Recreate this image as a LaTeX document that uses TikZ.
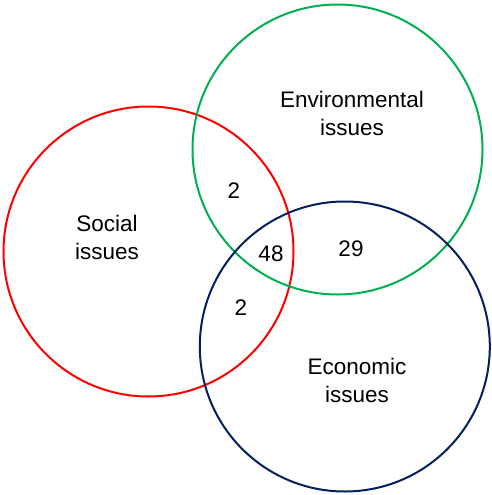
\documentclass[tikz,border=0pt]{standalone}
\usepackage{fontspec}
\setmainfont{Liberation Sans}
\usetikzlibrary{positioning}
\definecolor{socialred}{RGB}{255,0,0}
\definecolor{envgreen}{RGB}{0,176,80}
\definecolor{econblue}{RGB}{0,32,96}

\begin{document}
\begin{tikzpicture}[
    x=1pt, y=-1pt,
    every node/.style={font=\fontsize{22.5}{28}\selectfont},
    setcircle/.style={circle, line width=2pt, minimum size=290pt, inner sep=0pt},
    setlabel/.style={align=center, inner sep=0pt},
    count/.style={inner sep=0pt}
]
\useasboundingbox (0,0) rectangle (491,495);

% Sets
\node[setcircle, draw=socialred] (social) at (148.5,251.5) {};
\node[setcircle, draw=envgreen] (environ) at (337.5,149.5) {};
\node[setcircle, draw=econblue] (econ) at (344.8,346.5) {};

% Set labels
\node[setlabel] (sociallabel) at (107,237) {Social\\issues};
\node[setlabel] (environlabel) at (352,113) {Environmental\\issues};
\node[setlabel] (econlabel) at (357,380) {Economic\\issues};

% Counts
\node[count] (socenv) at (234,191) {2};
\node[count] (all) at (271,254) {48};
\node[count] (envecon) at (351,249) {29};
\node[count] (socecon) at (241,308) {2};

\end{tikzpicture}
\end{document}
